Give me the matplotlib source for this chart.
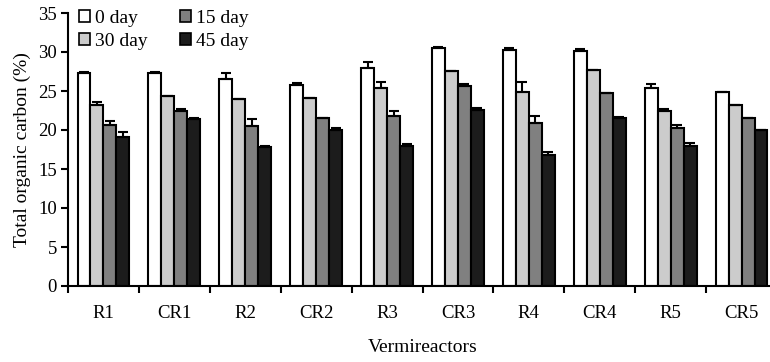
import matplotlib
matplotlib.use("Agg")
import matplotlib.pyplot as plt
import numpy as np

reactors = ["R1", "CR1", "R2", "CR2", "R3", "CR3", "R4", "CR4", "R5", "CR5"]
series_labels = ["0 day", "30 day", "15 day", "45 day"]  # bar order within groups: 0, 30, 15, 45
day0 = [27.3, 27.3, 26.5, 25.8, 28.0, 30.5, 30.3, 30.1, 25.4, 24.9]
day30 = [23.2, 24.3, 24.0, 24.1, 25.4, 27.6, 24.9, 27.7, 22.4, 23.2]
day15 = [20.6, 22.4, 20.5, 21.6, 21.8, 25.6, 20.9, 24.8, 20.2, 21.6]
day45 = [19.1, 21.4, 17.8, 20.0, 17.9, 22.6, 16.8, 21.5, 18.0, 20.0]
err0 = [0.15, 0.15, 0.85, 0.2, 0.75, 0.1, 0.15, 0.3, 0.45, 0.0]
err30 = [0.35, 0.05, 0.0, 0.0, 0.75, 0.0, 1.3, 0.0, 0.25, 0.0]
err15 = [0.5, 0.3, 0.85, 0.0, 0.65, 0.35, 0.85, 0.0, 0.5, 0.0]
err45 = [0.65, 0.15, 0.1, 0.3, 0.35, 0.25, 0.35, 0.2, 0.3, 0.0]

colors = ["#ffffff", "#cccccc", "#808080", "#1c1c1c"]

plt.rcParams["font.family"] = ["Liberation Serif", "DejaVu Serif"]
plt.rcParams["font.size"] = 13.5

fig = plt.figure(figsize=(7.7, 3.62), dpi=100)
ax = fig.add_axes([68 / 770, 76 / 362, (777 - 68) / 770, (286 - 13) / 362])

x = np.arange(len(reactors)) + 0.5
bw = 0.183
vals = [day0, day30, day15, day45]
errs = [err0, err30, err15, err45]
handles = []
for i, (v, e, c, lab) in enumerate(zip(vals, errs, colors, series_labels)):
    pos = x + (i - 1.5) * bw
    b = ax.bar(pos, v, width=bw, color=c, edgecolor="black", linewidth=1.5,
               label=lab, zorder=2)
    handles.append(b)
    ax.errorbar(pos, v, yerr=[np.zeros(len(v)), e], fmt="none", ecolor="black",
                elinewidth=1.5, capsize=3.5, capthick=1.5, zorder=3)

ax.set_xlim(0, 10)
ax.set_ylim(0, 35)
ax.set_yticks(np.arange(0, 36, 5))
ax.set_xticks(np.arange(0, 11, 1))
ax.set_xticklabels([])
ax.set_xticks(x, minor=True)
ax.set_xticklabels(reactors, minor=True)
ax.tick_params(axis="x", which="minor", length=0, pad=14)
ax.tick_params(axis="both", which="major", direction="out", length=5, width=1.5, pad=3)

for s in ["top", "right"]:
    ax.spines[s].set_visible(False)
for s in ["left", "bottom"]:
    ax.spines[s].set_linewidth(1.5)

ax.set_ylabel("Total organic carbon (%)", fontsize=14, labelpad=5)
ax.set_xlabel("Vermireactors", fontsize=14, labelpad=12)

leg = ax.legend(handles, series_labels,
                ncol=2, frameon=False, loc="upper left",
                bbox_to_anchor=(79 / 770, 1 - 10 / 362), bbox_transform=fig.transFigure,
                handlelength=0.55, handleheight=0.55,
                handletextpad=0.25, columnspacing=1.7, labelspacing=0.3,
                borderaxespad=0, borderpad=0, fontsize=14)
for h in leg.legend_handles:
    h.set_linewidth(1.2)

fig.savefig("out.png", dpi=100)
